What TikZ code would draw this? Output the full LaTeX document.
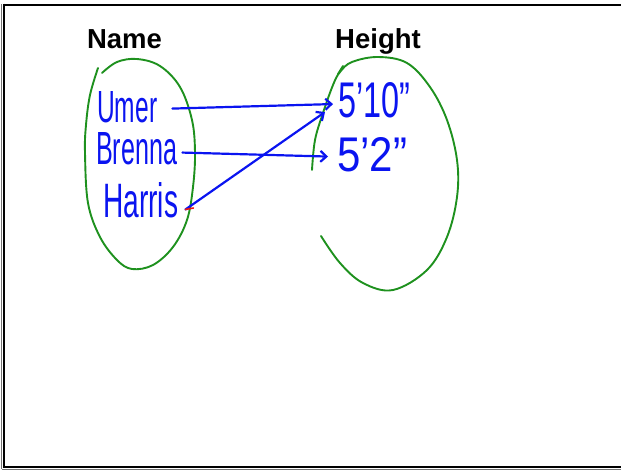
\documentclass[tikz,border=0pt]{standalone}
\usepackage{fontspec}
\setmainfont{Liberation Sans}
\usetikzlibrary{arrows.meta}
\definecolor{penblue}{RGB}{10,20,240}
\definecolor{pengreen}{RGB}{30,145,30}
\definecolor{penred}{RGB}{235,20,20}
\tikzset{
  heading/.style={font=\bfseries\fontsize{27.5}{30}\selectfont, anchor=base, inner sep=0pt},
  ink/.style={text=penblue, inner sep=0pt, anchor=south west},
  loop/.style={draw=pengreen, line width=1.9pt, line cap=round, line join=round},
  maparrow/.style={draw=penblue, line width=2.2pt, line cap=round, line join=round,
    -{Straight Barb[length=6pt,width=11pt,line width=2.2pt]}},
  frameline/.style={line width=2pt, draw=black}
}
\begin{document}
\begin{tikzpicture}[x=1pt,y=1pt]
\useasboundingbox (0,0) rectangle (621,-471);

% page frame with a faint shadow along the bottom
\draw[line width=1.5pt, black!55] (2,-469.5) -- (621,-469.5);
\draw[line width=1.2pt, black!55] (1.5,-4) -- (1.5,-469);
\draw[frameline] (3.5,-4.7) -- (621,-4.7);
\draw[frameline] (3.5,-3.7) -- (3.5,-467.5);
\draw[frameline] (3.5,-467.3) -- (621,-467.3);

% column headings
\node[heading] (hname) at (124.5,-48) {Name};
\node[heading] (hheight) at (378,-48) {Height};

% domain loop
\draw[loop] plot[smooth, tension=0.6] coordinates {
  (98,-68) (90,-95) (86,-125) (85,-153) (88,-203) (100,-237) (117,-260)
  (132,-269) (153,-265) (173,-247) (187,-220) (193,-187) (195,-153)
  (192,-120) (180,-87) (160,-66) (137,-59) (117,-62) (102,-73)};

% range loop, open on the left
\draw[loop] plot[smooth, tension=0.6] coordinates {
  (321,-236) (340,-263) (363,-283) (393,-290) (427,-270) (447,-237)
  (457,-197) (457,-160) (447,-120) (430,-87) (407,-63) (378,-57)
  (352,-62) (340,-72) (333,-85) (323,-113) (315,-140) (312,-170)};
\draw[loop] (343,-66) -- (338,-74);

% names
\node[ink] (umer) at (97,-123) {\resizebox{60pt}{31pt}{Umer}};
\node[ink] (brenna) at (96,-165) {\resizebox{81pt}{32pt}{Brenna}};
\node[ink] (harris) at (103,-218) {\resizebox{75pt}{35pt}{Harris}};

% heights
\node[ink] (tall) at (338,-118) {\resizebox{72pt}{35pt}{5'10''}};
\node[ink] (short) at (337,-172) {\resizebox{70pt}{34pt}{5'2''}};

% correspondence arrows
\draw[maparrow] ([shift={(15,-1.5)}]umer.east) -- ([shift={(-5,-4)}]tall.west);
\draw[maparrow] ([shift={(5,-4)}]brenna.east) -- ([shift={(-9,-2)}]short.west);
\draw[maparrow] ([shift={(7,8.5)}]harris.south east) -- ([shift={(-13,-12)}]tall.west);
\draw[penred, line width=1.6pt, line cap=round] ([shift={(7,8.5)}]harris.south east) -- ++(8,1.5);
\end{tikzpicture}
\end{document}
